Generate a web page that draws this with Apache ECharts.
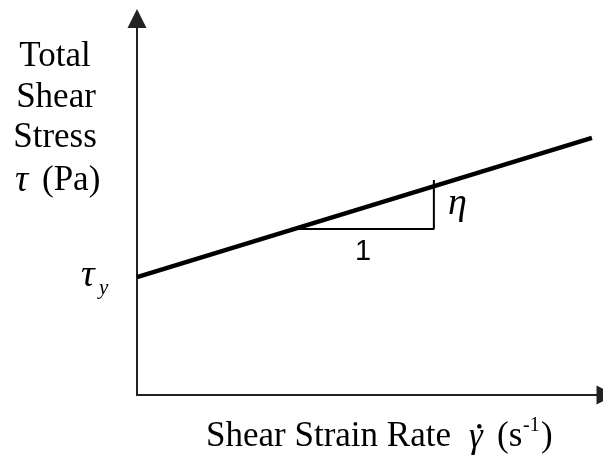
<!DOCTYPE html>
<html>
<head>
<meta charset="utf-8">
<script src="https://cdn.jsdelivr.net/npm/echarts@6/dist/echarts.min.js"></script>
<style>
  html, body { margin: 0; padding: 0; background: #fff; }
  #chart { width: 603px; height: 460px; }
</style>
</head>
<body>
<div id="chart"></div>
<script>
// Bingham plastic: total shear stress rises linearly from the yield stress
const shearRate = [0, 97];
const shearStress = [31.3, 68.3];
// slope triangle: horizontal run of one unit and vertical rise of eta
const slopeX = [34.1, 63.3, 63.3];
const slopeY = [44.1, 44.1, 57.1];

const SERIF = '"Liberation Serif", "DejaVu Serif", serif';
const SANS = '"Liberation Sans", Arial, sans-serif';

const chart = echarts.init(document.getElementById('chart'), null, { renderer: 'canvas' });

function axisCfg() {
  return {
    type: 'value',
    min: 0,
    max: 100,
    axisLine: {
      show: true,
      symbol: ['none', 'triangle'],
      symbolSize: [19, 19],
      lineStyle: { color: '#222', width: 2 }
    },
    axisTick: { show: false },
    axisLabel: { show: false },
    splitLine: { show: false }
  };
}

function txt(text, x, y, size, opts) {
  opts = opts || {};
  return {
    type: 'text',
    x: x,
    y: y,
    style: {
      text: text,
      fill: '#000',
      font: (opts.fontStyle ? opts.fontStyle + ' ' : '') + size + 'px ' + (opts.family || SERIF),
      align: opts.align || 'left',
      verticalAlign: 'middle'
    }
  };
}

chart.setOption({
  animation: false,
  backgroundColor: '#fff',
  grid: { left: 137, right: -3, top: 18.5, bottom: 65, containLabel: false, outerBoundsMode: 'none' },
  xAxis: axisCfg(),
  yAxis: axisCfg(),
  series: [
    {
      type: 'line',
      data: shearRate.map((x, i) => [x, shearStress[i]]),
      symbol: 'none',
      clip: false,
      lineStyle: { color: '#000', width: 4.5 }
    },
    {
      type: 'line',
      data: slopeX.map((x, i) => [x, slopeY[i]]),
      symbol: 'none',
      clip: false,
      lineStyle: { color: '#000', width: 2 }
    }
  ],
  graphic: [
    // y-axis title
    txt('Total', 55, 57, 35, { align: 'center' }),
    txt('Shear', 56, 98, 35, { align: 'center' }),
    txt('Stress', 55, 138, 35, { align: 'center' }),
    txt('\u03C4', 15, 181, 37, { fontStyle: 'italic' }),
    txt('(Pa)', 42, 181, 35),
    // yield stress marker
    txt('\u03C4', 81, 276, 38, { fontStyle: 'italic' }),
    txt('y', 99, 288, 21, { fontStyle: 'italic' }),
    // slope annotations
    txt('\u03B7', 448, 204, 38, { fontStyle: 'italic' }),
    txt('1', 355, 252, 29, { family: SANS }),
    // x-axis title
    txt('Shear Strain Rate', 206, 437, 35),
    txt('\u03B3', 469, 438, 35, { fontStyle: 'italic' }),
    txt('\u2022', 476, 428, 19),
    txt('(s', 497, 437, 35),
    txt('-1', 523, 426, 20),
    txt(')', 541, 437, 35)
  ]
});
</script>
</body>
</html>
